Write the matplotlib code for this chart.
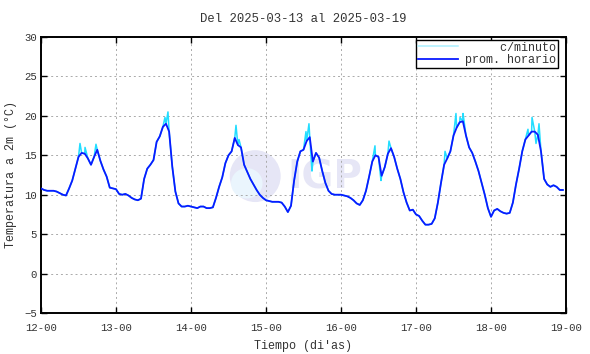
import matplotlib
matplotlib.use('Agg')
import matplotlib.pyplot as plt
from matplotlib.patches import Ellipse
import numpy as np

# hourly averages (prom. horario), one list per day starting 12-00
day0 = [10.8, 10.6, 10.5, 10.5, 10.5, 10.4, 10.2, 10.0, 9.9, 10.8, 11.8, 13.3,
        14.8, 15.3, 15.2, 14.6, 13.8, 14.8, 15.7, 14.3, 13.2, 12.3, 10.9, 10.8]
day1 = [10.7, 10.1, 10.0, 10.1, 9.9, 9.6, 9.4, 9.3, 9.5, 12.0, 13.3, 13.8,
        14.4, 16.7, 17.4, 18.6, 19.0, 18.0, 13.6, 10.4, 8.9, 8.5, 8.5, 8.6]
day2 = [8.5, 8.4, 8.3, 8.5, 8.5, 8.3, 8.3, 8.4, 9.6, 11.0, 12.2, 14.0,
        15.0, 15.5, 17.2, 16.3, 16.0, 13.8, 12.9, 12.0, 11.3, 10.6, 10.0, 9.6]
day3 = [9.3, 9.2, 9.1, 9.1, 9.1, 9.0, 8.5, 7.8, 8.6, 11.8, 14.2, 15.5,
        15.7, 16.8, 17.3, 14.2, 15.3, 14.7, 13.0, 11.5, 10.5, 10.1, 10.0, 10.0]
day4 = [10.0, 9.9, 9.8, 9.6, 9.3, 8.9, 8.7, 9.3, 10.5, 12.3, 14.2, 15.0,
        14.8, 12.4, 13.5, 15.2, 15.9, 14.8, 13.3, 12.0, 10.3, 9.0, 8.0, 8.1]
day5 = [7.5, 7.3, 6.7, 6.2, 6.2, 6.3, 7.0, 9.0, 11.5, 13.8, 14.6, 15.5,
        17.5, 18.5, 19.2, 19.3, 17.5, 16.0, 15.3, 14.2, 13.0, 11.5, 10.0, 8.3]
day6 = [7.2, 8.0, 8.2, 7.9, 7.7, 7.6, 7.7, 9.0, 11.3, 13.3, 15.5, 17.0,
        17.5, 18.0, 18.0, 17.6, 15.5, 12.0, 11.3, 11.0, 11.2, 11.0, 10.6, 10.6]

# visible per-minute excursions (time in days, temperature)
spike_t = [0.52, 0.587, 0.733, 1.56, 1.653, 1.693, 2.6, 2.64, 3.533, 3.573, 3.613,
           4.453, 4.533, 4.64, 5.387, 5.533, 5.587, 5.627, 6.493, 6.547, 6.6, 6.64]
spike_v = [16.5, 16.0, 16.4, 17.0, 19.8, 20.5, 18.8, 17.0, 18.0, 19.0, 13.0,
           16.2, 11.8, 16.8, 15.5, 20.3, 19.8, 20.3, 18.3, 19.8, 16.5, 19.0]

xticklabels = ['12-00', '13-00', '14-00', '15-00', '16-00', '17-00', '18-00', '19-00']

hourly = np.array(day0 + day1 + day2 + day3 + day4 + day5 + day6)
t_hour = np.arange(len(hourly)) / 24.0

t_min = np.concatenate([t_hour, spike_t])
v_min = np.concatenate([hourly, spike_v])
order = np.argsort(t_min)
t_min, v_min = t_min[order], v_min[order]

mono = 'Liberation Mono'
plt.rcParams['font.family'] = mono

fig = plt.figure(figsize=(5.9, 3.54), dpi=100)
ax = fig.add_axes([41 / 590, 1 - 313 / 354, 525 / 590, 276 / 354])

# watermark
ax.add_patch(Ellipse((0.408, 0.496), 0.097, 0.188, transform=ax.transAxes,
                     facecolor='#e6e6f6', edgecolor='none', zorder=0))
ax.add_patch(Ellipse((0.392, 0.47), 0.06, 0.11, transform=ax.transAxes,
                     facecolor='#eaf5fd', edgecolor='none', zorder=0))
ax.text(0.54, 0.49, 'IGP', transform=ax.transAxes, fontsize=28, fontweight='bold',
        family='DejaVu Sans', color='#e6e6f6', ha='center', va='center', zorder=0)

ax.plot(t_min, v_min, color='#22ddff', lw=1.1, label='     c/minuto', zorder=2)
ax.plot(t_hour, hourly, color='#0a1aff', lw=1.3, label='prom. horario', zorder=3)

ax.set_xlim(0, 7)
ax.set_ylim(-5, 30)
ax.set_xticks(range(8))
ax.set_xticklabels(xticklabels)
ax.set_yticks(range(-5, 31, 5))

ax.grid(True, color='#aaaaaa', linestyle=(0, (2, 3)), lw=0.7)
ax.tick_params(direction='in', top=True, right=True, length=4, width=1,
               labelsize=7.7, labelcolor='#333333')
ax.tick_params(axis='x', pad=7)
ax.tick_params(axis='y', pad=3)
for s in ax.spines.values():
    s.set_linewidth(1.4)

ax.set_title('Del 2025-03-13 al 2025-03-19', fontsize=8.8, color='#333333', pad=11)
ax.set_xlabel('Tiempo (di\'as)', fontsize=8.5, color='#333333', labelpad=5)
ax.set_ylabel('Temperatura a 2m (°C)', fontsize=8.5, color='#333333', labelpad=5)

leg = ax.legend(loc='upper right', bbox_to_anchor=(0.985, 0.99), fontsize=8.5,
                frameon=True, fancybox=False, framealpha=1, edgecolor='black',
                handlelength=3.4, borderpad=0.15, labelspacing=0.05, handletextpad=0.6,
                borderaxespad=0)
leg.get_frame().set_linewidth(1.0)
leg.get_lines()[0].set_color('#aaf0ff')
for txt in leg.get_texts():
    txt.set_color('#333333')

fig.savefig('out.png', dpi=100)
